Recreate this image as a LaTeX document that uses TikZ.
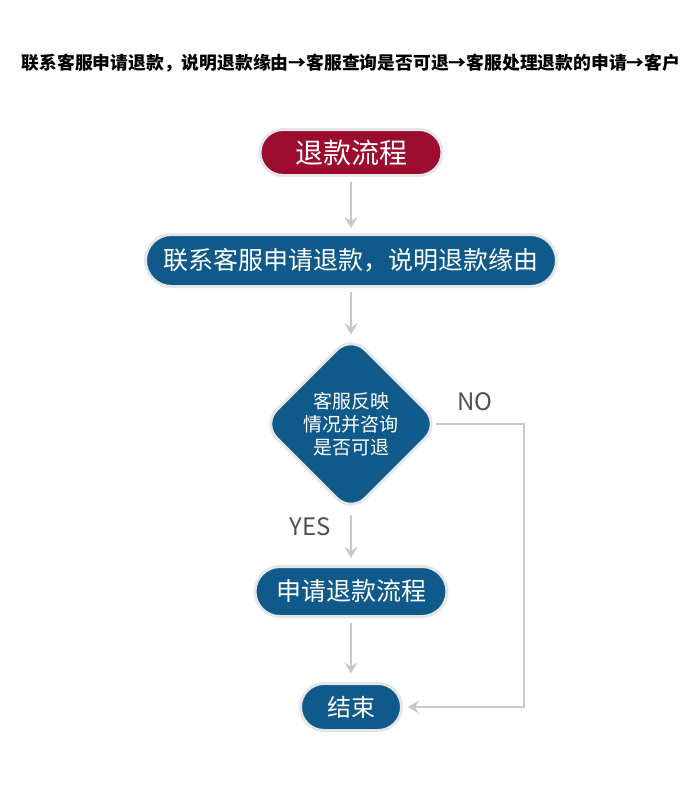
\documentclass[tikz,border=0pt]{standalone}
\usepackage{fontspec}
\setmainfont{Noto Sans CJK SC}
\newfontfamily\cjk{Noto Sans CJK SC}
\usetikzlibrary{shapes.geometric,arrows.meta}
\definecolor{redc}{HTML}{9B0C2F}
\definecolor{bluec}{HTML}{0F5A8A}
\definecolor{bord}{HTML}{E6E6E6}
\definecolor{linec}{HTML}{C8C8C8}
\definecolor{labc}{HTML}{505050}
\newcommand{\fsz}[1]{\fontsize{#1}{#1}\selectfont}
\begin{document}
\begin{tikzpicture}[x=1pt,y=-1pt,
  pillbox/.style={draw=bord, line width=3pt, text=white, inner sep=0pt, outer sep=0pt},
  conn/.style={draw=linec, line width=2pt},
  arr/.style={conn, -{Stealth[length=11pt,width=13pt,inset=4pt]}},
  lab/.style={text=labc, font=\cjk\fsz{24}}]
\useasboundingbox[fill=white] (0,0) rectangle (700,788);

\node[font=\cjk\bfseries\fsz{17.8}] (title) at (351,63)
  {联系客服申请退款，说明退款缘由→客服查询是否可退→客服处理退款的申请→客户};

\node[pillbox, fill=redc, minimum width=182pt, minimum height=46pt, rounded corners=23pt, font=\cjk\fsz{28}] (n1) at (351,152.5) {退款流程};
\node[pillbox, fill=bluec, minimum width=411pt, minimum height=52pt, rounded corners=26pt, font=\cjk\fsz{25}] (n2) at (351,260.5) {联系客服申请退款，说明退款缘由};
\node[diamond, draw=bord, line width=3pt, fill=bluec, minimum width=177pt, minimum height=177pt, inner sep=0pt, outer sep=0pt, rounded corners=20pt] (d) at (351,424) {};
\node[text=white, align=center, font=\cjk\fsz{19}, inner sep=0pt] (dt) at (351,424) {客服反映\\[4pt]情况并咨询\\[4pt]是否可退};
\node[pillbox, fill=bluec, minimum width=192pt, minimum height=50pt, rounded corners=25pt, font=\cjk\fsz{25}] (n3) at (351,591.5) {申请退款流程};
\node[pillbox, fill=bluec, minimum width=101pt, minimum height=47pt, rounded corners=23.5pt, font=\cjk\fsz{24}] (n4) at (351,707) {结束};

\node[lab] (no) at (475,402) {NO};
\node[lab] (yes) at (310,527) {YES};

\coordinate (c1) at (524,424);
\coordinate (c2) at (524,707);

\draw[arr, shorten <=6.5pt, shorten >=6.5pt] (n1.south) -- (n2.north);
\draw[arr, shorten <=5.5pt, shorten >=1pt] (n2.south) -- (d.north);
\draw[arr, shorten <=2.5pt, shorten >=8.5pt] (d.south) -- (n3.north);
\draw[arr, shorten <=6.5pt, shorten >=10pt] (n3.south) -- (n4.north);
\draw[arr, shorten >=6.5pt] ([xshift=-3.5pt]d.east) -- (c1) -- (c2) -- (n4.east);
\end{tikzpicture}
\end{document}
